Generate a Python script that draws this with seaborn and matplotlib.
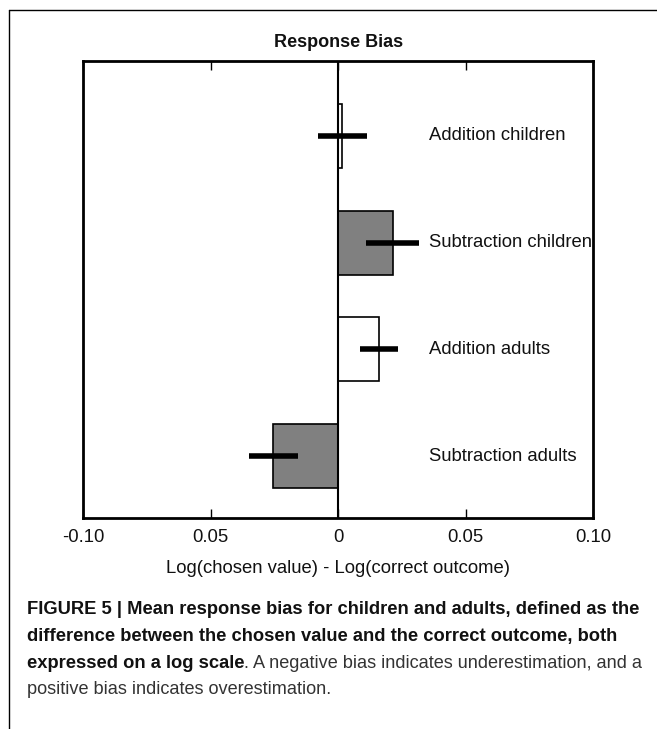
import matplotlib
matplotlib.use("Agg")
import matplotlib.pyplot as plt
from matplotlib import font_manager
from matplotlib.lines import Line2D
import seaborn as sns

# data
categories = ["Addition children", "Subtraction children", "Addition adults", "Subtraction adults"]
bias = [0.0015, 0.0213, 0.0160, -0.0256]
bias_err = [0.0096, 0.0103, 0.0075, 0.0096]
bar_fills = ["white", "#808080", "white", "#808080"]
tick_values = [-0.10, -0.05, 0.0, 0.05, 0.10]
tick_labels = ["-0.10", "0.05", "0", "0.05", "0.10"]

caption_bold = [
    "FIGURE 5 | Mean response bias for children and adults, defined as the",
    "difference between the chosen value and the correct outcome, both",
    "expressed on a log scale",
]
caption_rest = [". A negative bias indicates underestimation, and a",
                "positive bias indicates overestimation."]

sns.set_style("white")
plt.rcParams["font.family"] = ["Liberation Sans", "DejaVu Sans"]

# condensed font for the caption if there is one
names = {f.name for f in font_manager.fontManager.ttflist}
cap_font = "Liberation Sans Narrow" if "Liberation Sans Narrow" in names else "Liberation Sans"

fig = plt.figure(figsize=(6.57, 7.29), dpi=100)
ax = fig.add_axes([0.1268, 0.2894, 0.7763, 0.6269])

sns.barplot(x=bias, y=categories, hue=categories, palette=bar_fills, orient="h",
            width=0.6, edgecolor="black", linewidth=1.2, legend=False,
            errorbar=None, ax=ax)
ax.errorbar(bias, range(len(categories)), xerr=bias_err, fmt="none",
            ecolor="black", elinewidth=4, capsize=0, zorder=4)
ax.axvline(0, color="black", lw=1.5, zorder=3)

for i, name in enumerate(categories):
    ax.text(0.0355, i, name, va="center", ha="left", fontsize=13.3, color="#111111")

ax.set_xlim(-0.10, 0.10)
ax.set_ylim(3.58, -0.70)
ax.set_yticks([])
ax.set_ylabel("")
ax.set_xticks(tick_values)
ax.set_xticklabels(tick_labels)
ax.tick_params(axis="x", direction="in", top=True, bottom=True, length=6.5,
               width=1, labelsize=13.3, pad=8, colors="black", labelcolor="#111111")
ax.set_xlabel("Log(chosen value) - Log(correct outcome)", fontsize=13.3,
              labelpad=10, color="#111111")
ax.set_title("Response Bias", fontsize=13, fontweight="bold", pad=10, color="#111111")
for sp in ax.spines.values():
    sp.set_linewidth(2)
    sp.set_color("black")

# page frame: top and left lines only
fig.add_artist(Line2D([9 / 657, 1], [1 - 10 / 729, 1 - 10 / 729], color="black", lw=1))
fig.add_artist(Line2D([9 / 657, 9 / 657], [0, 1 - 10 / 729], color="black", lw=1))

# caption, sized so the lines span the same width as the reference
fig.canvas.draw()
renderer = fig.canvas.get_renderer()
probe = fig.text(0, 0, caption_bold[0], fontsize=10, fontweight="bold", family=cap_font)
w = probe.get_window_extent(renderer).width
probe.remove()
cap_size = 10 * (643 - 27) / w

x0 = 27 / 657
line_y = [610, 637, 663, 690]
for k in range(3):
    t = fig.text(x0, 1 - line_y[k] / 729, caption_bold[k], fontsize=cap_size,
                 fontweight="bold", family=cap_font, color="#111111", va="center")
fig.canvas.draw()
end_px = t.get_window_extent(renderer).x1
probe = fig.text(0, 0, caption_rest[0], fontsize=10, family=cap_font)
w2 = probe.get_window_extent(renderer).width
probe.remove()
rest_size = min(cap_size, 10 * (643 - end_px) / w2)
fig.text(end_px / fig.bbox.width, 1 - line_y[2] / 729, caption_rest[0], fontsize=rest_size,
         family=cap_font, color="#333333", va="center")
fig.text(x0, 1 - line_y[3] / 729, caption_rest[1], fontsize=rest_size,
         family=cap_font, color="#333333", va="center")

fig.savefig("out.png", dpi=100)
